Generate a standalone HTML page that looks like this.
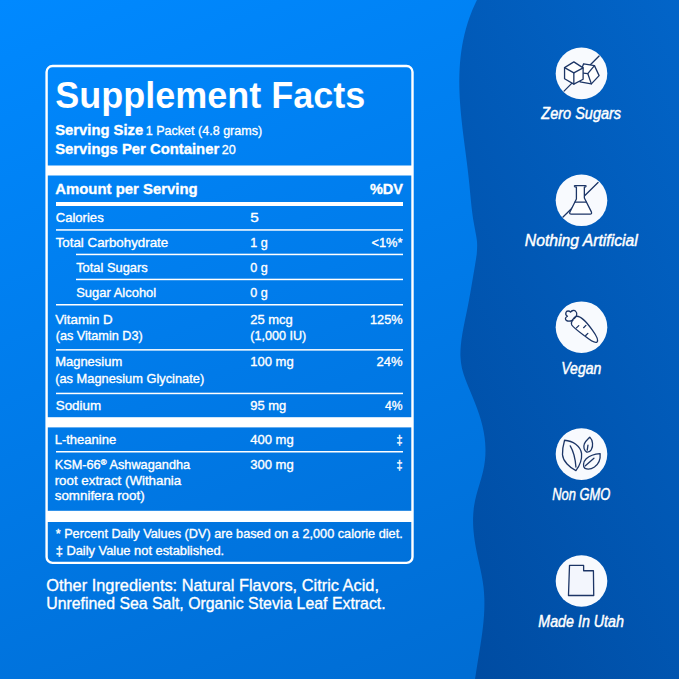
<!DOCTYPE html>
<html><head><meta charset="utf-8"><title>Supplement Facts</title>
<style>
html,body{margin:0;padding:0;background:#007eee;}
body{width:679px;height:679px;overflow:hidden;}
svg{display:block;font-family:"Liberation Sans",sans-serif;}
text{stroke:#fff;stroke-width:.35px;stroke-linejoin:round;}
</style></head><body>
<svg width="679" height="679" viewBox="0 0 679 679">
<defs>
<linearGradient id="lg" gradientUnits="userSpaceOnUse" x1="0" y1="0" x2="307" y2="738"><stop offset="0" stop-color="#0089ff"/><stop offset="1" stop-color="#006dd4"/></linearGradient>
<linearGradient id="rg" gradientUnits="userSpaceOnUse" x1="480" y1="679" x2="922" y2="445"><stop offset="0" stop-color="#004ca2"/><stop offset="1" stop-color="#0265c9"/></linearGradient>
</defs>
<rect width="679" height="679" fill="url(#lg)"/>
<path d="M476.91,0.00 C476.05,1.92 473.31,7.67 471.77,11.51 C470.22,15.34 468.86,19.18 467.64,23.02 C466.42,26.85 465.37,30.69 464.45,34.53 C463.52,38.36 462.75,42.20 462.10,46.03 C461.44,49.87 460.92,53.71 460.51,57.54 C460.09,61.38 459.80,65.21 459.60,69.05 C459.39,72.89 459.30,76.72 459.28,80.56 C459.26,84.40 459.34,88.23 459.48,92.07 C459.61,95.90 459.83,99.74 460.10,103.58 C460.36,107.41 460.70,111.25 461.06,115.08 C461.42,118.92 461.85,122.76 462.28,126.59 C462.72,130.43 463.20,134.27 463.68,138.10 C464.16,141.94 464.67,145.77 465.17,149.61 C465.66,153.45 466.18,157.28 466.66,161.12 C467.15,164.95 467.63,168.79 468.08,172.63 C468.53,176.46 468.94,180.30 469.34,184.14 C469.73,187.97 470.05,191.81 470.43,195.64 C470.80,199.48 471.14,203.32 471.58,207.15 C472.02,210.99 472.48,214.82 473.07,218.66 C473.67,222.50 474.49,226.33 475.15,230.17 C475.80,234.01 476.73,237.84 477.00,241.68 C477.28,245.51 477.11,249.35 476.79,253.19 C476.47,257.02 475.69,260.86 475.09,264.69 C474.48,268.53 473.79,272.37 473.14,276.20 C472.49,280.04 471.86,283.88 471.20,287.71 C470.53,291.55 469.87,295.38 469.15,299.22 C468.44,303.06 467.69,306.89 466.92,310.73 C466.15,314.56 465.29,318.40 464.53,322.24 C463.77,326.07 462.97,329.91 462.36,333.75 C461.74,337.58 461.15,341.42 460.84,345.25 C460.53,349.09 460.30,352.93 460.48,356.76 C460.66,360.60 461.08,364.44 461.93,368.27 C462.78,372.11 464.17,375.94 465.56,379.78 C466.94,383.62 468.68,387.45 470.24,391.29 C471.80,395.12 473.43,398.96 474.91,402.80 C476.39,406.63 477.87,410.47 479.12,414.31 C480.37,418.14 481.51,421.98 482.42,425.81 C483.33,429.65 484.07,433.49 484.57,437.32 C485.08,441.16 485.39,444.99 485.46,448.83 C485.52,452.67 485.38,456.50 484.96,460.34 C484.55,464.18 483.84,468.01 482.97,471.85 C482.11,475.68 480.88,479.52 479.79,483.36 C478.70,487.19 477.40,491.03 476.44,494.86 C475.48,498.70 474.58,502.54 474.02,506.37 C473.46,510.21 473.18,514.05 473.08,517.88 C472.97,521.72 473.12,525.55 473.40,529.39 C473.67,533.23 474.15,537.06 474.72,540.90 C475.28,544.73 476.02,548.57 476.77,552.41 C477.53,556.24 478.44,560.08 479.26,563.92 C480.08,567.75 480.97,571.59 481.68,575.42 C482.38,579.26 483.05,583.10 483.50,586.93 C483.94,590.77 484.20,594.60 484.33,598.44 C484.46,602.28 484.41,606.11 484.28,609.95 C484.14,613.79 483.85,617.62 483.51,621.46 C483.16,625.29 482.69,629.13 482.20,632.97 C481.70,636.80 481.11,640.64 480.52,644.47 C479.93,648.31 479.29,652.15 478.67,655.98 C478.04,659.82 477.39,663.66 476.80,667.49 C476.20,671.33 475.38,677.08 475.10,679.00 L679,679 L679,0 Z" fill="url(#rg)"/>
<rect x="46.6" y="66" width="365.9" height="496.9" rx="6" ry="6" fill="none" stroke="#fff" stroke-width="2.4"/>
<rect x="46" y="165.5" width="367" height="10" fill="#fff"/><rect x="56" y="202" width="347" height="4" fill="#fff"/><rect x="56" y="229.2" width="347" height="1.5" fill="#fff"/><rect x="76" y="253.7" width="327" height="1.5" fill="#fff"/><rect x="76" y="278.7" width="327" height="1.5" fill="#fff"/><rect x="56" y="304" width="347" height="1.5" fill="#fff"/><rect x="56" y="349.1" width="347" height="1.5" fill="#fff"/><rect x="56" y="392.7" width="347" height="1.5" fill="#fff"/><rect x="56" y="451" width="347" height="1.5" fill="#fff"/><rect x="46" y="417.2" width="367" height="10.2" fill="#fff"/><rect x="46" y="510.8" width="367" height="11.2" fill="#fff"/>
<circle cx="581.5" cy="73.4" r="25.8" fill="#f8fafe"/><circle cx="581.5" cy="200.3" r="25.8" fill="#f8fafe"/><circle cx="581.5" cy="327.20000000000005" r="25.8" fill="#f8fafe"/><circle cx="581.5" cy="454.1" r="25.8" fill="#f8fafe"/><circle cx="581.5" cy="581.0" r="25.8" fill="#f8fafe"/>
<path d="M599.09,56.04 L564.04,91.09" fill="none" stroke="#1c3566" stroke-width="1.3" stroke-linejoin="round" stroke-linecap="round"/>
<path d="M583.63,63.77 L594.45,65.63 L599.09,75.63 L591.36,83.88 L580.02,81.81 L581.57,68.93 Z" fill="#fff" stroke="#1c3566" stroke-width="1.3" stroke-linejoin="round" stroke-linecap="round"/>
<path d="M594.45,65.63 L587.75,73.57 L591.36,83.88" fill="none" stroke="#1c3566" stroke-width="1.3" stroke-linejoin="round" stroke-linecap="round"/>
<path d="M587.75,73.57 L583.32,73.05" fill="none" stroke="#1c3566" stroke-width="1.3" stroke-linejoin="round" stroke-linecap="round"/>
<path d="M573.84,61.92 L583.11,67.9 L583.11,79.24 L573.84,84.08 L564.56,78.72 L564.56,67.59 Z" fill="#fff" stroke="#1c3566" stroke-width="1.3" stroke-linejoin="round" stroke-linecap="round"/>
<path d="M564.56,67.59 L573.84,72.85 L583.11,67.9" fill="none" stroke="#1c3566" stroke-width="1.3" stroke-linejoin="round" stroke-linecap="round"/>
<path d="M573.84,72.85 L573.84,84.08" fill="none" stroke="#1c3566" stroke-width="1.3" stroke-linejoin="round" stroke-linecap="round"/>
<path d="M598.06,182.49 L563.01,217.03" fill="none" stroke="#1c3566" stroke-width="1.3" stroke-linejoin="round" stroke-linecap="round"/>
<path d="M575.18,185.59 L585.18,185.59 Q586.21,185.59 586.0,186.41 Q585.79,187.13 584.35,187.13 L584.35,197.96 L591.36,211.88 Q592.19,214.04 590.12,214.04 L571.26,214.04 Q569.09,214.04 569.92,212.08 L576.41,198.99 L576.41,187.13 Q574.66,187.13 574.45,186.41 Q574.25,185.59 575.18,185.59 Z" fill="#fff" stroke="#1c3566" stroke-width="1.3" stroke-linejoin="round"/>
<path d="M575.07,202.08 L586.21,202.08" fill="none" stroke="#1c3566" stroke-width="1.3" stroke-linejoin="round" stroke-linecap="round"/>
<path d="M576.93,316.23 C581.05,316.23 587.24,322.93 592.39,330.14 C596.52,335.81 598.58,340.45 597.03,342.0 C595.48,343.34 590.33,340.45 585.18,336.33 C578.99,331.69 573.32,327.57 571.77,324.99 C570.54,322.41 573.32,316.74 576.93,316.23 Z" fill="#fff" stroke="#1c3566" stroke-width="1.3" stroke-linejoin="round"/>
<path d="M574.35,318.6 C576.93,316.23 577.44,313.13 575.9,311.59 C574.35,309.73 571.77,310.35 570.54,312.1 C569.2,310.56 566.62,310.56 565.9,312.62 C565.38,314.47 566.41,315.71 567.44,316.23 C565.07,317.26 564.76,319.63 566.62,320.66 C568.89,321.9 571.26,320.87 573.01,320.04" fill="none" stroke="#1c3566" stroke-width="1.3" stroke-linejoin="round" stroke-linecap="round"/>
<path d="M576.41,327.88 L578.78,325.61" fill="none" stroke="#1c3566" stroke-width="1.3" stroke-linejoin="round" stroke-linecap="round"/>
<path d="M583.63,327.67 L585.9,325.4" fill="none" stroke="#1c3566" stroke-width="1.3" stroke-linejoin="round" stroke-linecap="round"/>
<path d="M585.69,335.51 L587.86,333.34" fill="none" stroke="#1c3566" stroke-width="1.3" stroke-linejoin="round" stroke-linecap="round"/>
<path d="M564.56,440.26 C572.8,440.77 580.54,445.93 581.57,453.66 C582.08,459.33 578.99,466.55 575.9,470.67 C569.71,467.58 563.01,461.39 562.49,454.69 C562.29,449.02 563.53,443.87 564.56,440.26 Z" fill="none" stroke="#1c3566" stroke-width="1.3" stroke-linejoin="round"/>
<path d="M570.23,445.93 C573.32,451.08 575.38,459.33 575.9,467.06" fill="none" stroke="#1c3566" stroke-width="1.3" stroke-linecap="round"/>
<path d="M589.81,437.16 C592.91,440.26 593.42,445.93 591.36,449.54 C590.12,451.6 588.27,452.32 586.72,452.11 C584.14,450.57 583.11,446.96 584.35,443.87 C585.69,440.77 588.27,438.71 589.81,437.16 Z" fill="none" stroke="#1c3566" stroke-width="1.3" stroke-linejoin="round"/>
<path d="M587.96,445.21 L587.24,450.05" fill="none" stroke="#1c3566" stroke-width="1.3" stroke-linejoin="round" stroke-linecap="round"/>
<path d="M600.12,453.66 C600.64,459.33 598.06,464.48 594.45,467.06 C591.36,469.12 587.24,469.43 584.97,468.4 C582.6,466.55 583.11,461.91 586.21,458.81 C589.81,455.41 595.48,453.97 600.12,453.66 Z" fill="none" stroke="#1c3566" stroke-width="1.3" stroke-linejoin="round"/>
<path d="M585.38,465.82 L593.94,458.3" fill="none" stroke="#1c3566" stroke-width="1.3" stroke-linejoin="round" stroke-linecap="round"/>
<path d="M569.51,565.38 L583.63,565.38 L583.63,570.74 L593.42,570.74 L593.73,595.48 L568.47,595.48 Z" fill="#f3f6fd" stroke="#1c3566" stroke-width="1.3" stroke-linejoin="round" stroke-linecap="round"/>
<text x="55.2" y="107.5" font-size="36.6" font-weight="700" fill="#fff" textLength="310.0" lengthAdjust="spacingAndGlyphs" style="stroke:#0082f6;stroke-width:.1px">Supplement Facts</text><text x="55.2" y="135.1" font-size="15.5" font-weight="700" fill="#fff" textLength="88.0" lengthAdjust="spacingAndGlyphs">Serving Size</text><text x="145.7" y="135.1" font-size="13.5" font-weight="400" fill="#fff" textLength="116.5" lengthAdjust="spacingAndGlyphs">1 Packet (4.8 grams)</text><text x="55.2" y="153.7" font-size="15.5" font-weight="700" fill="#fff" textLength="164.0" lengthAdjust="spacingAndGlyphs">Servings Per Container</text><text x="221.7" y="153.7" font-size="13.5" font-weight="400" fill="#fff" textLength="14.0" lengthAdjust="spacingAndGlyphs">20</text><text x="55.2" y="194.3" font-size="15.5" font-weight="700" fill="#fff" textLength="142.5" lengthAdjust="spacingAndGlyphs">Amount per Serving</text><text x="403" y="194.3" font-size="15.5" font-weight="700" fill="#fff" text-anchor="end" textLength="33" lengthAdjust="spacingAndGlyphs">%DV</text><text x="55.7" y="221.8" font-size="12.8" font-weight="400" fill="#fff" textLength="48.0" lengthAdjust="spacingAndGlyphs">Calories</text><text x="55.7" y="247.2" font-size="12.8" font-weight="400" fill="#fff" textLength="112.5" lengthAdjust="spacingAndGlyphs">Total Carbohydrate</text><text x="76.2" y="272" font-size="12.8" font-weight="400" fill="#fff" textLength="71.5" lengthAdjust="spacingAndGlyphs">Total Sugars</text><text x="76.2" y="297.4" font-size="12.8" font-weight="400" fill="#fff" textLength="80.0" lengthAdjust="spacingAndGlyphs">Sugar Alcohol</text><text x="55.2" y="323.6" font-size="12.8" font-weight="400" fill="#fff" textLength="57.5" lengthAdjust="spacingAndGlyphs">Vitamin D</text><text x="55.7" y="339.7" font-size="12.8" font-weight="400" fill="#fff" textLength="87.0" lengthAdjust="spacingAndGlyphs">(as Vitamin D3)</text><text x="55.2" y="366" font-size="12.8" font-weight="400" fill="#fff" textLength="67.0" lengthAdjust="spacingAndGlyphs">Magnesium</text><text x="55.2" y="382.5" font-size="12.8" font-weight="400" fill="#fff" textLength="149.0" lengthAdjust="spacingAndGlyphs">(as Magnesium Glycinate)</text><text x="55.7" y="410" font-size="12.8" font-weight="400" fill="#fff" textLength="45.5" lengthAdjust="spacingAndGlyphs">Sodium</text><text x="54.7" y="444" font-size="12.8" font-weight="400" fill="#fff" textLength="61.5" lengthAdjust="spacingAndGlyphs">L-theanine</text><text x="54.7" y="468.7" font-size="12.8" font-weight="400" fill="#fff" textLength="135.5" lengthAdjust="spacingAndGlyphs">KSM-66<tspan font-size="8" dy="-4">®</tspan><tspan dy="4"> Ashwagandha</tspan></text><text x="54.7" y="485" font-size="12.8" font-weight="400" fill="#fff" textLength="126.5" lengthAdjust="spacingAndGlyphs">root extract (Withania</text><text x="54.7" y="500" font-size="12.8" font-weight="400" fill="#fff" textLength="90.0" lengthAdjust="spacingAndGlyphs">somnifera root)</text><text x="250.2" y="221.8" font-size="12.8" font-weight="400" fill="#fff" textLength="8.5" lengthAdjust="spacingAndGlyphs">5</text><text x="250.2" y="247.2" font-size="12.8" font-weight="400" fill="#fff" textLength="17.5" lengthAdjust="spacingAndGlyphs">1 g</text><text x="250.2" y="272" font-size="12.8" font-weight="400" fill="#fff" textLength="17.5" lengthAdjust="spacingAndGlyphs">0 g</text><text x="250.2" y="297.4" font-size="12.8" font-weight="400" fill="#fff" textLength="17.5" lengthAdjust="spacingAndGlyphs">0 g</text><text x="250.2" y="323.6" font-size="12.8" font-weight="400" fill="#fff" textLength="42.5" lengthAdjust="spacingAndGlyphs">25 mcg</text><text x="250.2" y="339.7" font-size="12.8" font-weight="400" fill="#fff" textLength="56.0" lengthAdjust="spacingAndGlyphs">(1,000 IU)</text><text x="250.2" y="366" font-size="12.8" font-weight="400" fill="#fff" textLength="43.5" lengthAdjust="spacingAndGlyphs">100 mg</text><text x="250.2" y="410" font-size="12.8" font-weight="400" fill="#fff" textLength="36.0" lengthAdjust="spacingAndGlyphs">95 mg</text><text x="250.2" y="444" font-size="12.8" font-weight="400" fill="#fff" textLength="43.5" lengthAdjust="spacingAndGlyphs">400 mg</text><text x="250.2" y="468.7" font-size="12.8" font-weight="400" fill="#fff" textLength="43.5" lengthAdjust="spacingAndGlyphs">300 mg</text><text x="402.5" y="247.2" font-size="12.8" font-weight="400" fill="#fff" text-anchor="end" textLength="31" lengthAdjust="spacingAndGlyphs">&lt;1%*</text><text x="402.5" y="323.6" font-size="12.8" font-weight="400" fill="#fff" text-anchor="end" textLength="32.5" lengthAdjust="spacingAndGlyphs">125%</text><text x="402.5" y="366" font-size="12.8" font-weight="400" fill="#fff" text-anchor="end" textLength="26" lengthAdjust="spacingAndGlyphs">24%</text><text x="402.5" y="410" font-size="12.8" font-weight="400" fill="#fff" text-anchor="end" textLength="17.5" lengthAdjust="spacingAndGlyphs">4%</text><text x="402.5" y="444" font-size="12.8" font-weight="400" fill="#fff" text-anchor="end" textLength="6" lengthAdjust="spacingAndGlyphs">‡</text><text x="402.5" y="468.7" font-size="12.8" font-weight="400" fill="#fff" text-anchor="end" textLength="6" lengthAdjust="spacingAndGlyphs">‡</text><text x="55.7" y="538" font-size="12.5" font-weight="400" fill="#fff" textLength="347.0" lengthAdjust="spacingAndGlyphs">* Percent Daily Values (DV) are based on a 2,000 calorie diet.</text><text x="55.7" y="554.5" font-size="12.5" font-weight="400" fill="#fff" textLength="168.5" lengthAdjust="spacingAndGlyphs">‡ Daily Value not established.</text><text x="46.2" y="590.5" font-size="17" font-weight="400" fill="#fff" textLength="332.8" lengthAdjust="spacingAndGlyphs">Other Ingredients: Natural Flavors, Citric Acid,</text><text x="46.2" y="609.1" font-size="17" font-weight="400" fill="#fff" textLength="339.5" lengthAdjust="spacingAndGlyphs">Unrefined Sea Salt, Organic Stevia Leaf Extract.</text><text x="581.2" y="119.1" font-size="16" font-weight="400" fill="#fff" text-anchor="middle" font-style="italic" textLength="79.8" lengthAdjust="spacingAndGlyphs" style="stroke-width:.45px">Zero Sugars</text><text x="581.3" y="246" font-size="16" font-weight="400" fill="#fff" text-anchor="middle" font-style="italic" textLength="113" lengthAdjust="spacingAndGlyphs" style="stroke-width:.45px">Nothing Artificial</text><text x="581.3" y="373.5" font-size="16" font-weight="400" fill="#fff" text-anchor="middle" font-style="italic" textLength="40" lengthAdjust="spacingAndGlyphs" style="stroke-width:.45px">Vegan</text><text x="581.3" y="499.8" font-size="16" font-weight="400" fill="#fff" text-anchor="middle" font-style="italic" textLength="58" lengthAdjust="spacingAndGlyphs" style="stroke-width:.45px">Non GMO</text><text x="581.1" y="626.8" font-size="16" font-weight="400" fill="#fff" text-anchor="middle" font-style="italic" textLength="85.6" lengthAdjust="spacingAndGlyphs" style="stroke-width:.45px">Made In Utah</text>
</svg>
</body></html>
